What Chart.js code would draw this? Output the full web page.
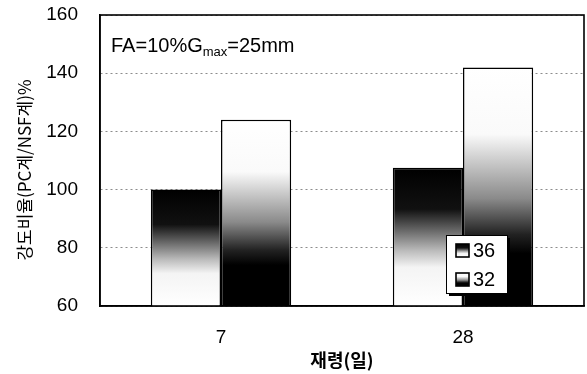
<!DOCTYPE html>
<html>
<head>
<meta charset="utf-8">
<script src="https://cdn.jsdelivr.net/npm/chart.js@4.4.1/dist/chart.umd.min.js"></script>
<style>
  html, body { margin: 0; padding: 0; background: #fff; }
  #wrap { width: 587px; height: 374px; }
</style>
</head>
<body>
<div id="wrap"><canvas id="c" width="587" height="374"></canvas></div>
<script>
const categories = ['7', '28'];
const series36 = [100, 107.5];
const series32 = [124, 142];
const seriesLabels = ['36', '32'];
const yTicks = [60, 80, 100, 120, 140, 160];
const xTitle = '재령(일)';
const yTitle = '강도비율(PC계/NSF계)%';
const annotationMain = 'FA=10%G';
const annotationSub = 'max';
const annotationEnd = '=25mm';

const Y_MIN = 60;

const stops36 = [[0, '#000'], [0.3, '#111'], [0.45, '#666'], [0.6, '#bbb'], [0.72, '#f4f4f4'], [1, '#fff']];
const stops32 = [[0, '#fff'], [0.28, '#fafafa'], [0.38, '#d0d0d0'], [0.55, '#8a8a8a'], [0.7, '#222'], [0.78, '#000'], [1, '#000']];

function barGradient(stops) {
  return function (context) {
    const chart = context.chart;
    if (!chart.chartArea || context.dataIndex === undefined || !chart.scales.y) return '#888';
    const v = context.raw;
    const yScale = chart.scales.y;
    const top = yScale.getPixelForValue(v);
    const base = yScale.getPixelForValue(Y_MIN);
    const g = chart.ctx.createLinearGradient(0, top, 0, base);
    stops.forEach(s => g.addColorStop(s[0], s[1]));
    return g;
  };
}

const boxPlugin = {
  id: 'boxAndExtras',
  afterDraw(chart) {
    const ctx = chart.ctx;
    const a = chart.chartArea;
    ctx.save();
    // plot frame
    ctx.strokeStyle = '#000';
    ctx.lineWidth = 1.6;
    ctx.setLineDash([]);
    ctx.strokeRect(a.left, a.top, a.right - a.left, a.bottom - a.top);

    // y axis title
    ctx.save();
    ctx.translate(25, 170);
    ctx.rotate(-Math.PI / 2);
    ctx.fillStyle = '#000';
    ctx.textAlign = 'center';
    ctx.textBaseline = 'middle';
    ctx.font = '17px "Noto Sans CJK KR", sans-serif';
    ctx.fillText(yTitle, 0, 0);
    ctx.restore();

    // annotation text
    ctx.fillStyle = '#000';
    ctx.textBaseline = 'alphabetic';
    ctx.textAlign = 'left';
    ctx.font = '20px "Liberation Sans", Arial, sans-serif';
    let x = 111, y = 52;
    ctx.fillText(annotationMain, x, y);
    x += ctx.measureText(annotationMain).width;
    ctx.font = '13px "Liberation Sans", Arial, sans-serif';
    ctx.fillText(annotationSub, x, y + 4);
    x += ctx.measureText(annotationSub).width;
    ctx.font = '20px "Liberation Sans", Arial, sans-serif';
    ctx.fillText(annotationEnd, x, y);

    // legend
    const lx = 446, ly = 235, lw = 61, lh = 58;
    ctx.fillStyle = '#000';
    ctx.fillRect(lx + 3, ly + 3, lw, lh);
    ctx.fillStyle = '#fff';
    ctx.fillRect(lx, ly, lw, lh);
    ctx.strokeStyle = '#000';
    ctx.lineWidth = 1;
    ctx.strokeRect(lx + 0.5, ly + 0.5, lw, lh);

    const items = chart.data.datasets.map((d, i) => ({ label: d.label, stops: i === 0 ? stops36 : stops32 }));
    items.forEach((it, i) => {
      const iy = ly + 9 + i * 29;
      const ix = 456;
      const g = ctx.createLinearGradient(0, iy, 0, iy + 13);
      it.stops.forEach(s => g.addColorStop(s[0], s[1]));
      ctx.fillStyle = g;
      ctx.fillRect(ix, iy, 13, 13);
      ctx.strokeStyle = '#000';
      ctx.lineWidth = 1.6;
      ctx.strokeRect(ix, iy, 13, 13);
      ctx.fillStyle = '#000';
      ctx.font = '20px "Liberation Sans", Arial, sans-serif';
      ctx.textBaseline = 'middle';
      ctx.fillText(it.label, 473, iy + 7.5);
    });
    ctx.restore();
  }
};

function zeroPad(scale) {
  scale.paddingTop = 0;
  scale.paddingBottom = 0;
  scale.paddingLeft = 0;
  scale.paddingRight = 0;
}

new Chart(document.getElementById('c'), {
  type: 'bar',
  data: {
    labels: categories,
    datasets: [
      {
        label: seriesLabels[0],
        data: series36,
        backgroundColor: barGradient(stops36),
        borderColor: '#000',
        borderWidth: 1.5,
        borderSkipped: false,
        barPercentage: 1.0,
        categoryPercentage: 0.58
      },
      {
        label: seriesLabels[1],
        data: series32,
        backgroundColor: barGradient(stops32),
        borderColor: '#000',
        borderWidth: 1.5,
        borderSkipped: false,
        barPercentage: 1.0,
        categoryPercentage: 0.58
      }
    ]
  },
  options: {
    responsive: false,
    animation: false,
    devicePixelRatio: 1,
    layout: { padding: { left: 0, right: 3, top: 15, bottom: 0 } },
    plugins: {
      legend: { display: false },
      tooltip: { enabled: false },
      title: { display: false }
    },
    scales: {
      x: {
        grid: { display: false },
        border: { display: true, color: '#000', width: 1.5 },
        ticks: {
          color: '#000',
          padding: 12,
          font: { family: '"Liberation Sans", Arial, sans-serif', size: 19 }
        },
        title: {
          display: true,
          text: xTitle,
          color: '#000',
          padding: { top: 0, bottom: 3 },
          font: { family: '"Noto Sans CJK KR", sans-serif', size: 18, weight: 'bold' }
        },
        afterFit(scale) { scale.height = 68; zeroPad(scale); }
      },
      y: {
        min: Y_MIN,
        max: 160,
        afterBuildTicks(scale) { scale.ticks = yTicks.map(v => ({ value: v })); },
        grid: {
          color: '#8c8c8c',
          lineWidth: 1,
          drawTicks: false
        },
        border: { display: true, color: '#000', width: 1.5, dash: [2, 3] },
        ticks: {
          color: '#000',
          padding: 22,
          font: { family: '"Liberation Sans", Arial, sans-serif', size: 19 }
        },
        title: { display: false },
        afterFit(scale) { scale.width = 100; zeroPad(scale); }
      }
    }
  },
  plugins: [boxPlugin]
});
</script>
</body>
</html>
